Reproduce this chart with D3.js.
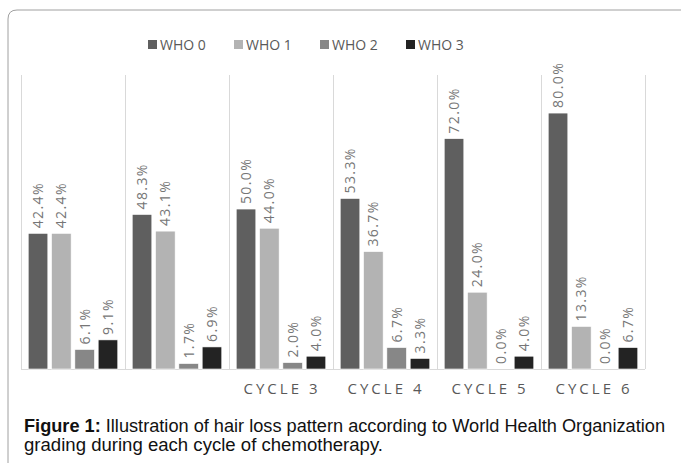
<!DOCTYPE html>
<html>
<head>
<meta charset="utf-8">
<script src="https://cdn.jsdelivr.net/npm/d3@7"></script>
<style>
  body { margin: 0; background: #fff; }
  svg { display: block; }
</style>
</head>
<body>
<svg width="681" height="463"></svg>
<script>
var categories = ["CYCLE 1", "CYCLE 2", "CYCLE 3", "CYCLE 4", "CYCLE 5", "CYCLE 6"];
var shownLabels = ["", "", "CYCLE 3", "CYCLE 4", "CYCLE 5", "CYCLE 6"];
var series = ["WHO 0", "WHO 1", "WHO 2", "WHO 3"];
var who0 = [42.4, 48.3, 50.0, 53.3, 72.0, 80.0];
var who1 = [42.4, 43.1, 44.0, 36.7, 24.0, 13.3];
var who2 = [6.1, 1.7, 2.0, 6.7, 0.0, 0.0];
var who3 = [9.1, 6.9, 4.0, 3.3, 4.0, 6.7];
var colors = ["#5f5f5f", "#b3b3b3", "#878787", "#232323"];

document.addEventListener("DOMContentLoaded", function () {
  var svg = d3.select("svg");
  var values = [who0, who1, who2, who3];

  // outer frame, cut off on the right and bottom
  svg.append("path")
    .attr("d", "M8,470 L8,19 Q8,10 17,10 L690,10")
    .attr("fill", "none")
    .attr("stroke", "#a0a0a0")
    .attr("stroke-width", 1);

  var x = d3.scaleBand().domain(categories).range([21, 645]);
  var xInner = d3.scaleBand().domain(series).range([0, x.bandwidth()])
    .paddingInner(0.16).paddingOuter(0.31);
  var y = d3.scaleLinear().domain([0, 91.9]).range([369, 75]);

  // vertical separators
  svg.append("g").selectAll("line")
    .data(categories.concat(["end"]))
    .enter()
    .append("line")
    .attr("x1", function (d, i) { return Math.round(21 + i * x.step()) + 0.5; })
    .attr("x2", function (d, i) { return Math.round(21 + i * x.step()) + 0.5; })
    .attr("y1", y.range()[1])
    .attr("y2", y(0))
    .attr("stroke", "#d9d9d9");

  svg.append("line")
    .attr("x1", 21).attr("x2", 645)
    .attr("y1", y(0) + 0.5).attr("y2", y(0) + 0.5)
    .attr("stroke", "#d9d9d9");

  var groups = svg.append("g").selectAll("g")
    .data(series)
    .enter()
    .append("g");

  function rows(s, si) {
    return values[si].map(function (v, ci) {
      return { s: s, si: si, c: categories[ci], v: v };
    });
  }

  groups.selectAll("rect")
    .data(rows)
    .enter()
    .append("rect")
    .attr("x", function (d) { return x(d.c) + xInner(d.s); })
    .attr("width", xInner.bandwidth())
    .attr("y", function (d) { return y(d.v); })
    .attr("height", function (d) { return y(0) - y(d.v); })
    .attr("fill", function (d) { return colors[d.si]; })
    .attr("stroke", "#fff")
    .attr("stroke-width", 0.6);

  groups.selectAll("text")
    .data(rows)
    .enter()
    .append("text")
    .attr("transform", function (d) {
      var cx = x(d.c) + xInner(d.s) + xInner.bandwidth() / 2 + 5;
      return "translate(" + cx + "," + (y(d.v) - 5) + ") rotate(-90)";
    })
    .attr("font-family", "'Open Sans', sans-serif")
    .attr("font-size", 14)
    .attr("letter-spacing", 1.4)
    .attr("fill", "#767676")
    .text(function (d) { return d.v.toFixed(1) + "%"; });

  // category labels
  svg.append("g").selectAll("text")
    .data(categories)
    .enter()
    .append("text")
    .attr("x", function (d) { return x(d) + x.bandwidth() / 2 + 1; })
    .attr("y", 394)
    .attr("text-anchor", "middle")
    .attr("font-family", "'Open Sans', sans-serif")
    .attr("font-size", 15)
    .attr("letter-spacing", 3)
    .attr("fill", "#595959")
    .text(function (d, i) { return shownLabels[i]; });

  // legend
  var legend = svg.append("g").selectAll("g")
    .data(series)
    .enter()
    .append("g")
    .attr("transform", function (d, i) { return "translate(" + (148 + i * 86) + ",40)"; });
  legend.append("rect")
    .attr("width", 9).attr("height", 9)
    .attr("fill", function (d, i) { return colors[i]; });
  legend.append("text")
    .attr("x", 12).attr("y", 9.5)
    .attr("font-family", "'Open Sans', sans-serif")
    .attr("font-size", 14)
    .attr("fill", "#595959")
    .text(function (d) { return d; });

  // caption
  var cap = svg.append("text")
    .attr("font-family", "'Liberation Sans', Arial, sans-serif")
    .attr("font-size", 17.5)
    .attr("fill", "#111");
  var l1 = cap.append("tspan").attr("x", 24).attr("y", 432)
    .attr("textLength", 641).attr("lengthAdjust", "spacingAndGlyphs");
  l1.append("tspan").attr("font-weight", "bold").text("Figure 1:");
  l1.append("tspan").text(" Illustration of hair loss pattern according to World Health Organization");
  cap.append("tspan").attr("x", 24).attr("y", 451)
    .attr("textLength", 359).attr("lengthAdjust", "spacingAndGlyphs")
    .text("grading during each cycle of chemotherapy.");
});
</script>
</body>
</html>
